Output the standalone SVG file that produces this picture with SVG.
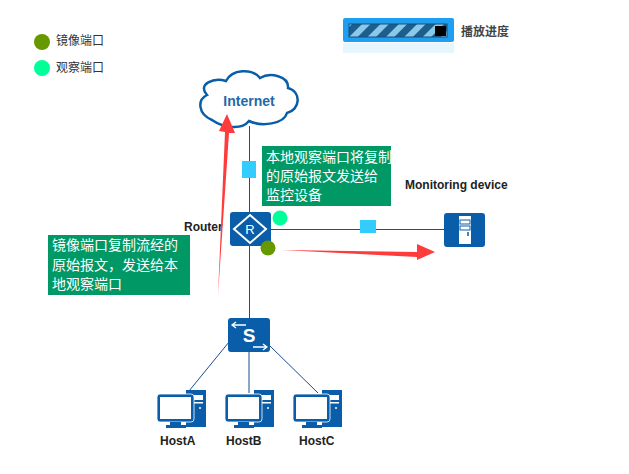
<svg xmlns="http://www.w3.org/2000/svg" width="629" height="474" viewBox="0 0 629 474">
<style>
text{font-family:"Liberation Sans","Noto Sans CJK SC",sans-serif}
.legend{font-size:12px;fill:#333}
.host{font-size:12px;font-weight:bold;fill:#222}
.note{font-size:14px;fill:#fff}
.link{stroke:#1c4d8c;stroke-width:1;fill:none}
.blue{fill:#0a5da8}
.pkt{fill:#33ccff}
.arrow{fill:#ff3b3b}
</style>
<defs>
<pattern id="stripes" width="13" height="13" patternUnits="userSpaceOnUse" patternTransform="rotate(-45)">
<rect width="13" height="13" fill="#1d5f8c"/>
<rect width="13" height="6" fill="#8cc8ea"/>
</pattern>
<g id="pc">
<rect x="29" y="1" width="20" height="37" fill="#0a5da8"/>
<rect x="32" y="6" width="14" height="5" fill="#fff"/>
<rect x="32" y="13" width="14" height="1.500" fill="#fff"/>
<circle cx="43" cy="19" r="1" fill="#fff"/>
<rect x="0" y="5" width="37" height="28" rx="3" fill="#0a5da8" stroke="#fff" stroke-width="0.800"/>
<rect x="3" y="8" width="31" height="22" fill="#fff"/>
<rect x="13" y="33" width="11" height="3" fill="#0a5da8"/>
<rect x="9" y="36" width="20" height="3" fill="#0a5da8"/>
</g>
</defs>

<g id="legend">
<circle cx="42" cy="42" r="8" fill="#669900"/>
<text class="legend" x="56" y="45">镜像端口</text>
<circle cx="42" cy="68" r="8" fill="#00ff99"/>
<text class="legend" x="56" y="72">观察端口</text>
</g>

<g id="progress">
<rect x="343" y="18" width="111" height="24" rx="2" fill="#1e9ff2"/>
<rect x="343" y="43" width="111" height="10" fill="#e6f6fe"/>
<rect x="349" y="24" width="98" height="13" fill="url(#stripes)" stroke="#14507c"/>
<rect x="435" y="26" width="11" height="10" fill="#000"/>
<text x="461" y="36" font-size="12px" font-weight="bold" fill="#444">播放进度</text>
</g>

<g id="connectors">
<line class="link" x1="249.500" y1="126" x2="249.500" y2="320"/>
<line class="link" x1="270" y1="229.500" x2="445" y2="229.500"/>
<line class="link" x1="229" y1="342" x2="189" y2="391"/>
<line class="link" x1="249" y1="352" x2="249" y2="393"/>
<line class="link" x1="269" y1="345" x2="318" y2="393"/>
</g>

<g id="internet">
<path d="M212 120C198 114 197 100 207 95C197 84 214 77 226 81C232 69 252 68 260 78C270 72 289 76 288 88C302 92 300 110 287 113C284 124 262 127 249 121C241 131 222 127 212 120Z" fill="#fff" stroke="#0a5da8" stroke-width="2.500"/>
<text x="249" y="106" font-size="14px" font-weight="bold" fill="#2468a8" text-anchor="middle">Internet</text>
</g>

<g id="router">
<rect class="blue" x="230" y="212" width="41" height="34" rx="3"/>
<path d="M250 215L266 229L250 243L234 229Z" fill="none" stroke="#fff" stroke-width="2"/>
<text x="250" y="234" font-size="13px" fill="#fff" text-anchor="middle">R</text>
<text class="host" x="184" y="231">Router</text>
</g>

<g id="switch">
<rect class="blue" x="228" y="318" width="42" height="34" rx="3"/>
<text x="249" y="342" font-size="19px" font-weight="bold" fill="#fff" text-anchor="middle">S</text>
<path d="M246 325H232M236 322L232 325L236 328M253 347H267M263 344L267 347L263 350" fill="none" stroke="#fff" stroke-width="1.300"/>
</g>

<g id="monitor">
<rect class="blue" x="444" y="213" width="41" height="34" rx="3"/>
<rect x="459" y="216" width="12" height="28" fill="#fff"/>
<rect x="460" y="220" width="10" height="4" fill="#fff" stroke="#0a5da8"/>
<rect x="460" y="226" width="10" height="4" fill="#fff" stroke="#0a5da8"/>
<rect x="467" y="232" width="2" height="4" fill="#3a8ac8"/>
<text class="host" x="405" y="189">Monitoring device</text>
</g>

<g id="hostA"><use href="#pc" x="157" y="389"/><text class="host" x="160" y="445">HostA</text></g>
<g id="hostB"><use href="#pc" x="225" y="389"/><text class="host" x="226" y="445">HostB</text></g>
<g id="hostC"><use href="#pc" x="293" y="389"/><text class="host" x="299" y="445">HostC</text></g>

<g id="ports">
<circle cx="280" cy="218" r="7.500" fill="#00ff99"/>
<circle cx="268" cy="248" r="7.500" fill="#669900"/>
<rect class="pkt" x="242" y="161" width="14" height="17"/>
<rect class="pkt" x="360" y="220" width="16" height="13"/>
</g>

<g id="flows">
<polygon class="arrow" points="218,295 225,132 219,131 227,114 235,133 229,133"/>
<polygon class="arrow" points="282,250 417,252 417,244 435,252 417,260 417,257"/>
</g>

<g id="note-observe">
<rect x="262" y="146" width="129" height="60" fill="#009966"/>
<text class="note"><tspan x="266" y="162">本地观察端口将复制</tspan><tspan x="266" y="181">的原始报文发送给</tspan><tspan x="266" y="200">监控设备</tspan></text>
</g>
<g id="note-mirror">
<rect x="48" y="235" width="142" height="60" fill="#009966"/>
<text class="note"><tspan x="52" y="250">镜像端口复制流经的</tspan><tspan x="52" y="270">原始报文，发送给本</tspan><tspan x="52" y="289">地观察端口</tspan></text>
</g>
</svg>
